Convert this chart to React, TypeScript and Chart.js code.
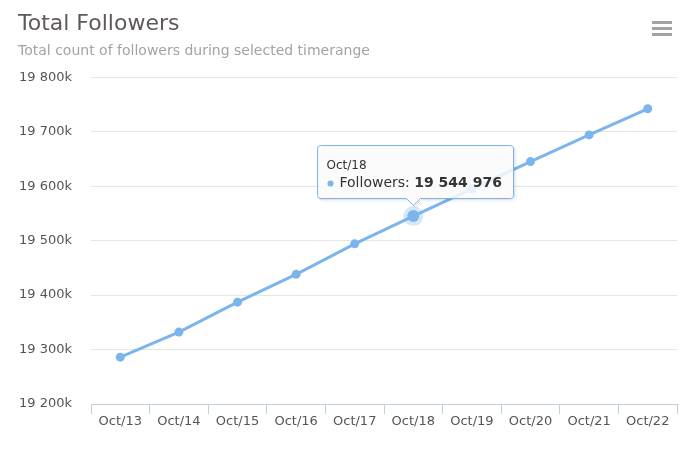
import React, { useEffect, useRef } from 'react';
import { Chart, registerables } from 'chart.js';

Chart.register(...registerables);

const categories = ['Oct/13', 'Oct/14', 'Oct/15', 'Oct/16', 'Oct/17', 'Oct/18', 'Oct/19', 'Oct/20', 'Oct/21', 'Oct/22'];
const followers = [19286000, 19332000, 19387000, 19438000, 19494000, 19544976, 19595000, 19645000, 19694000, 19742000];
const seriesName = 'Followers';
const highlightIndex = 5;
const yMin = 19200000;
const yMax = 19800000;
const yStep = 100000;
const titleText = 'Total Followers';
const subtitleText = 'Total count of followers during selected timerange';

const FONT = '"DejaVu Sans", "Lucida Grande", sans-serif';
const LINE = '#7cb5ec';

function spaced(n: number): string {
  return Math.round(n).toString().replace(/\B(?=(\d{3})+(?!\d))/g, ' ');
}

function tipPath(ctx: any, left: number, top: number, right: number, bottom: number, cx: number) {
  const r = 3;
  ctx.beginPath();
  ctx.moveTo(left + r, top);
  ctx.lineTo(right - r, top);
  ctx.quadraticCurveTo(right, top, right, top + r);
  ctx.lineTo(right, bottom - r);
  ctx.quadraticCurveTo(right, bottom, right - r, bottom);
  ctx.lineTo(cx + 7, bottom);
  ctx.lineTo(cx, bottom + 7);
  ctx.lineTo(cx - 7, bottom);
  ctx.lineTo(left + r, bottom);
  ctx.quadraticCurveTo(left, bottom, left, bottom - r);
  ctx.lineTo(left, top + r);
  ctx.quadraticCurveTo(left, top, left + r, top);
  ctx.closePath();
}

const overlayPlugin = {
  id: 'overlay',
  afterDatasetsDraw(chart: any) {
    const meta = chart.getDatasetMeta(0);
    const pt = meta.data[highlightIndex];
    if (!pt) return;
    const ctx = chart.ctx;
    ctx.save();
    ctx.beginPath();
    ctx.arc(pt.x, pt.y, 10, 0, Math.PI * 2);
    ctx.fillStyle = 'rgba(124,181,236,0.3)';
    ctx.fill();
    ctx.beginPath();
    ctx.arc(pt.x, pt.y, 6, 0, Math.PI * 2);
    ctx.fillStyle = LINE;
    ctx.fill();
    ctx.restore();
  },
  afterDraw(chart: any) {
    const ctx = chart.ctx;
    // menu icon
    ctx.save();
    ctx.fillStyle = '#a3a3a3';
    for (let i = 0; i < 3; i++) {
      ctx.fillRect(652, 21 + i * 6, 20, 3);
    }
    ctx.restore();

    const meta = chart.getDatasetMeta(0);
    const pt = meta.data[highlightIndex];
    if (!pt) return;
    const title = categories[highlightIndex];
    const label = seriesName + ': ';
    const value = spaced(followers[highlightIndex]);
    const fTitle = '12px ' + FONT;
    const fBody = '14px ' + FONT;
    const fBold = 'bold 14px ' + FONT;
    ctx.save();
    ctx.font = fBody;
    const wLabel = ctx.measureText(label).width;
    ctx.font = fBold;
    const wValue = ctx.measureText(value).width;
    ctx.font = fTitle;
    const wTitle = ctx.measureText(title).width;
    const w = Math.round(Math.max(22 + wLabel + wValue + 12, wTitle + 20));
    const h = 53;
    const left = Math.round(pt.x - w / 2 + 2) + 0.5;
    const bottom = Math.round(pt.y - 18) + 0.5;
    const top = bottom - h;
    const right = left + w;
    const cx = Math.round(pt.x) + 0.5;

    // soft shadow (strokes offset, so the translucent fill is not darkened)
    for (let i = 1; i <= 3; i++) {
      ctx.save();
      ctx.translate(i, i);
      tipPath(ctx, left, top, right, bottom, cx);
      ctx.strokeStyle = 'rgba(0,0,0,' + (0.1 / i).toFixed(3) + ')';
      ctx.lineWidth = 1;
      ctx.stroke();
      ctx.restore();
    }

    tipPath(ctx, left, top, right, bottom, cx);
    ctx.fillStyle = 'rgba(250,250,250,0.86)';
    ctx.fill();
    ctx.lineWidth = 1;
    ctx.strokeStyle = LINE;
    ctx.stroke();

    ctx.textBaseline = 'middle';
    ctx.textAlign = 'left';
    ctx.fillStyle = '#333333';
    ctx.font = fTitle;
    ctx.fillText(title, left + 9, top + 20);
    ctx.beginPath();
    ctx.arc(left + 13, top + 38, 3, 0, Math.PI * 2);
    ctx.fillStyle = LINE;
    ctx.fill();
    ctx.fillStyle = '#333333';
    ctx.font = fBody;
    ctx.fillText(label, left + 22, top + 38);
    ctx.font = fBold;
    ctx.fillText(value, left + 22 + wLabel, top + 38);
    ctx.restore();
  },
};

export default function App() {
  const ref = useRef<HTMLCanvasElement | null>(null);

  useEffect(() => {
    if (!ref.current) return;
    const chart = new Chart(ref.current, {
      type: 'line',
      data: {
        labels: categories,
        datasets: [
          {
            label: seriesName,
            data: followers,
            borderColor: LINE,
            backgroundColor: LINE,
            borderWidth: 3,
            pointRadius: 4.5,
            pointBorderWidth: 0,
            pointBackgroundColor: LINE,
            tension: 0,
          },
        ],
      },
      options: {
        responsive: false,
        animation: false,
        devicePixelRatio: 1,
        events: [],
        layout: { padding: { left: 18, right: 21, top: 0, bottom: 0 } },
        plugins: {
          legend: { display: false },
          tooltip: { enabled: false },
          title: {
            display: true,
            text: titleText,
            align: 'start',
            color: '#5f5a59',
            font: { family: FONT, size: 22, weight: 'normal' },
            padding: { top: 11, bottom: 6 },
          },
          subtitle: {
            display: true,
            text: subtitleText,
            align: 'start',
            color: '#a3a3a3',
            font: { family: FONT, size: 14, weight: 'normal' },
            padding: { top: 0, bottom: 17 },
          },
        },
        scales: {
          x: {
            type: 'category',
            offset: true,
            grid: {
              offset: true,
              drawOnChartArea: false,
              drawTicks: true,
              tickLength: 10,
              color: '#c0d0e0',
            },
            border: { display: true, color: '#c0d0e0' },
            ticks: {
              color: '#555555',
              font: { family: FONT, size: 13 },
              padding: 0,
              maxRotation: 0,
              autoSkip: false,
            },
            afterFit(scale: any) {
              scale.height = 53;
            },
          },
          y: {
            min: yMin,
            max: yMax,
            grid: { color: '#e6e6e6', drawTicks: false },
            border: { display: false },
            ticks: {
              stepSize: yStep,
              color: '#555555',
              font: { family: FONT, size: 13 },
              padding: 19,
              callback: (v: any) => spaced(Number(v) / 1000) + 'k',
            },
            afterFit(scale: any) {
              scale.width = 73;
            },
          },
        },
      },
      plugins: [overlayPlugin],
    });
    return () => chart.destroy();
  }, []);

  return (
    <div style={{ position: 'fixed', left: 0, top: 0, width: 698, height: 457, background: '#ffffff' }}>
      <canvas ref={ref} width={698} height={457} style={{ display: 'block', width: 698, height: 457 }} />
    </div>
  );
}
